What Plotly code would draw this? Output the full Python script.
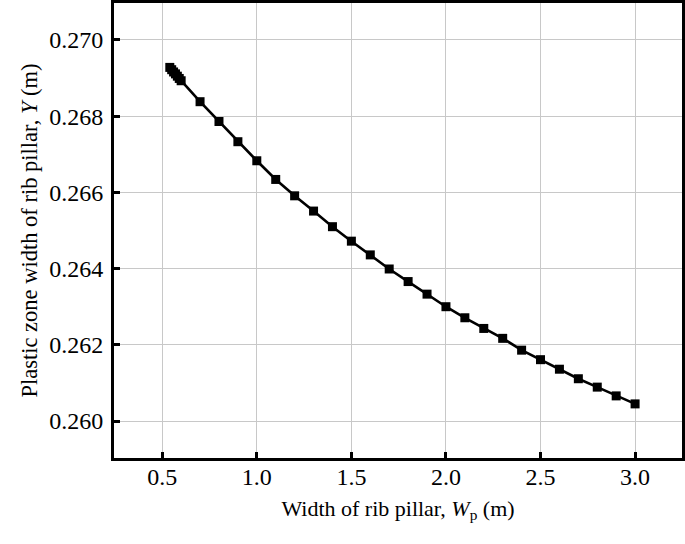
import plotly.graph_objects as go

# Data
width_wp = [0.54, 0.55, 0.56, 0.57, 0.58, 0.59, 0.60,
            0.7, 0.8, 0.9, 1.0, 1.1, 1.2, 1.3, 1.4, 1.5,
            1.6, 1.7, 1.8, 1.9, 2.0, 2.1, 2.2, 2.3, 2.4,
            2.5, 2.6, 2.7, 2.8, 2.9, 3.0]
plastic_y = [0.26928, 0.26922, 0.26916, 0.26911, 0.26905, 0.26899, 0.26893,
             0.26838, 0.26786, 0.26733, 0.26683, 0.26634, 0.26591, 0.26551, 0.26510, 0.26472,
             0.26436, 0.26399, 0.26366, 0.26333, 0.26300, 0.26271, 0.26243, 0.26217, 0.26186,
             0.26161, 0.26136, 0.26111, 0.26089, 0.26066, 0.26045]

x_ticks = [0.5, 1.0, 1.5, 2.0, 2.5, 3.0]
y_ticks = [0.260, 0.262, 0.264, 0.266, 0.268, 0.270]

FONT = "Liberation Serif, Times New Roman, serif"

fig = go.Figure()
fig.add_trace(go.Scatter(
    x=width_wp, y=plastic_y, mode="lines+markers",
    line=dict(color="black", width=2.6),
    marker=dict(symbol="square", size=9, color="black"),
    showlegend=False,
))

axis_common = dict(
    showline=True, linecolor="black", linewidth=3, mirror=True,
    showgrid=True, gridcolor="#c8c8c8", gridwidth=1,
    ticks="inside", ticklen=6, tickwidth=2.5, tickcolor="black",
    tickfont=dict(family=FONT, size=24, color="black"),
    zeroline=False, automargin=False,
)

fig.update_xaxes(
    range=[0.245, 3.248], tickvals=x_ticks,
    ticktext=[f"{v:.1f}" for v in x_ticks],
    title=dict(text="Width of rib pillar, <i>W</i><sub>p</sub> (m)",
               font=dict(family=FONT, size=22, color="black"), standoff=12),
    ticklabelstandoff=-5,
    **axis_common,
)
fig.update_yaxes(
    range=[0.25903, 0.27097], tickvals=y_ticks,
    ticktext=[f"{v:.3f}" for v in y_ticks],
    title=dict(text="Plastic zone width of rib pillar, <i>Y</i> (m)",
               font=dict(family=FONT, size=22.5, color="black"), standoff=6),
    ticklabelstandoff=3,
    **axis_common,
)

fig.update_layout(
    width=685, height=544,
    margin=dict(l=114, r=3, t=3, b=86),
    plot_bgcolor="white", paper_bgcolor="white",
)

fig.write_html(
    "out.html",
    config={"displayModeBar": False},
    post_script="document.body.style.margin='0';document.body.style.overflow='hidden';",
)
